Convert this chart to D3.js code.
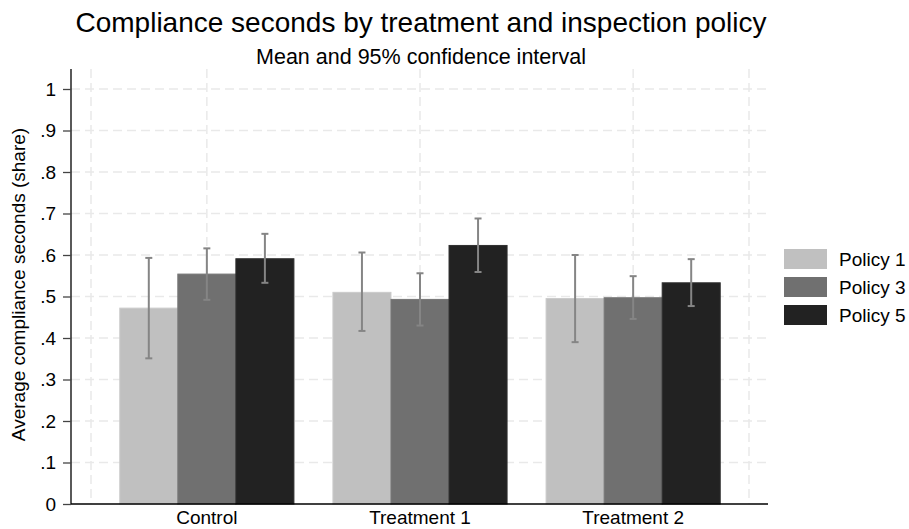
<!DOCTYPE html>
<html>
<head>
<meta charset="utf-8">
<script src="https://cdn.jsdelivr.net/npm/d3@7"></script>
<style>
  html, body { margin: 0; padding: 0; background: #fff; }
  svg { display: block; }
  text { font-family: "Liberation Sans", Arial, Helvetica, sans-serif; fill: #000; }
</style>
</head>
<body>
<svg id="chart" width="909" height="529"></svg>
<script>
// Groups along the x axis and the policies within each group
const groups = ["Control", "Treatment 1", "Treatment 2"];
const policies = ["Policy 1", "Policy 3", "Policy 5"];
const policyColors = ["#c0c0c0", "#707070", "#222222"];

// Mean share per group, one array per policy
const meanPolicy1 = [0.472, 0.510, 0.495];
const meanPolicy3 = [0.554, 0.493, 0.497];
const meanPolicy5 = [0.591, 0.623, 0.533];

// 95% confidence interval bounds
const lowPolicy1 = [0.351, 0.417, 0.390];
const highPolicy1 = [0.593, 0.606, 0.600];
const lowPolicy3 = [0.492, 0.430, 0.446];
const highPolicy3 = [0.616, 0.556, 0.549];
const lowPolicy5 = [0.533, 0.559, 0.477];
const highPolicy5 = [0.651, 0.688, 0.590];

const yTicks = [0, 0.1, 0.2, 0.3, 0.4, 0.5, 0.6, 0.7, 0.8, 0.9, 1];
const yTickLabels = ["0", ".1", ".2", ".3", ".4", ".5", ".6", ".7", ".8", ".9", "1"];

const means = [meanPolicy1, meanPolicy3, meanPolicy5];
const lows = [lowPolicy1, lowPolicy3, lowPolicy5];
const highs = [highPolicy1, highPolicy3, highPolicy5];

const rows = [];
groups.forEach((g, gi) => {
  policies.forEach((p, pi) => {
    rows.push({ group: g, policy: p, pi, mean: means[pi][gi], lo: lows[pi][gi], hi: highs[pi][gi] });
  });
});

const FONT = '"Liberation Sans", Arial, Helvetica, sans-serif';
const svg = d3.select("#chart");
const plot = { left: 71, right: 768, top: 69, bottom: 504 };

const y = d3.scaleLinear().domain([0, 1]).range([plot.bottom, 89]);
const x = d3.scaleBand().domain(groups).range([91, 749]).paddingInner(0.183).paddingOuter(0.135);
const xInner = d3.scaleBand().domain(policies).range([0, x.bandwidth()]);
const color = d3.scaleOrdinal().domain(policies).range(policyColors);

// Dashed grid
const grid = svg.append("g").attr("stroke", "#e9e9e9").attr("stroke-width", 1.5).attr("stroke-dasharray", "9,5");
grid.selectAll("line.h").data(yTicks.filter(v => v > 0)).join("line")
  .attr("x1", plot.left).attr("x2", plot.right)
  .attr("y1", d => y(d)).attr("y2", d => y(d));
const vLines = [x.range()[0], ...groups.map(g => x(g) + x.bandwidth() / 2), x.range()[1]];
grid.selectAll("line.v").data(vLines).join("line")
  .attr("x1", d => d).attr("x2", d => d)
  .attr("y1", plot.top).attr("y2", plot.bottom);

// Bars
svg.append("g").selectAll("rect").data(rows).join("rect")
  .attr("x", d => x(d.group) + xInner(d.policy))
  .attr("width", xInner.bandwidth())
  .attr("y", d => y(d.mean))
  .attr("height", d => y(0) - y(d.mean))
  .attr("fill", d => color(d.policy))
  .attr("stroke", d => d3.color(color(d.policy)).brighter(d.pi === 2 ? 0.9 : 0.15))
  .attr("stroke-width", 1);

// Confidence intervals
const ci = svg.append("g").attr("stroke", "#858585").attr("stroke-width", 2);
const cx = d => x(d.group) + xInner(d.policy) + xInner.bandwidth() / 2;
ci.selectAll("line.s").data(rows).join("line")
  .attr("x1", cx).attr("x2", cx).attr("y1", d => y(d.lo)).attr("y2", d => y(d.hi));
ci.selectAll("line.t").data(rows).join("line")
  .attr("x1", d => cx(d) - 3.5).attr("x2", d => cx(d) + 3.5).attr("y1", d => y(d.hi)).attr("y2", d => y(d.hi));
ci.selectAll("line.b").data(rows).join("line")
  .attr("x1", d => cx(d) - 3.5).attr("x2", d => cx(d) + 3.5).attr("y1", d => y(d.lo)).attr("y2", d => y(d.lo));

// Y axis
const yAxis = svg.append("g").attr("transform", `translate(${plot.left},0)`)
  .call(d3.axisLeft(y).tickValues(yTicks).tickFormat((d, i) => yTickLabels[i]).tickSize(8).tickPadding(7));
yAxis.attr("font-size", 19).attr("font-family", FONT);
yAxis.select(".domain").attr("d", `M0,${plot.top}V${plot.bottom}`).attr("stroke", "#000").attr("stroke-width", 1.3);
yAxis.selectAll(".tick line").attr("stroke", "#444").attr("stroke-width", 1.3);
yAxis.selectAll(".tick text").attr("fill", "#000");

// X axis
const xAxis = svg.append("g").attr("transform", `translate(0,${plot.bottom})`)
  .call(d3.axisBottom(x).tickSize(0).tickPadding(7));
xAxis.attr("font-size", 19).attr("font-family", FONT);
xAxis.select(".domain").attr("d", `M${plot.left},0H${plot.right}`).attr("stroke", "#000").attr("stroke-width", 1.3);
xAxis.selectAll(".tick text").attr("fill", "#000");

// Titles
svg.append("text").attr("x", 421).attr("y", 32).attr("text-anchor", "middle").attr("font-size", 28)
  .text("Compliance seconds by treatment and inspection policy");
svg.append("text").attr("x", 421).attr("y", 64).attr("text-anchor", "middle").attr("font-size", 21.5)
  .text("Mean and 95% confidence interval");
svg.append("text").attr("transform", `translate(25,${(plot.top + plot.bottom) / 2 - 2}) rotate(-90)`)
  .attr("text-anchor", "middle").attr("font-size", 19)
  .text("Average compliance seconds (share)");

// Legend
const legend = svg.append("g").attr("transform", "translate(784,249)");
const items = legend.selectAll("g").data(policies).join("g").attr("transform", (d, i) => `translate(0,${i * 28})`);
items.append("rect").attr("width", 43).attr("height", 20).attr("fill", d => color(d));
items.append("text").attr("x", 55).attr("y", 10).attr("dy", "0.36em").attr("font-size", 19).text(d => d);
</script>
</body>
</html>
